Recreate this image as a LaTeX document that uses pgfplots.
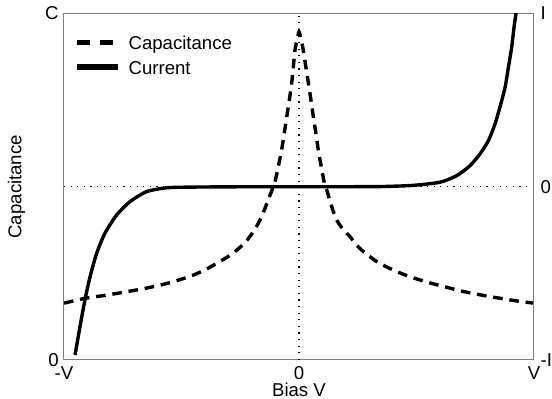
\documentclass[border=0pt]{standalone}
\usepackage{fontspec}
\setmainfont{Liberation Sans}
\usepackage{pgfplots}
\pgfplotsset{compat=1.18}
\newcommand\myfont{\fontsize{9.3}{11}\selectfont}
\definecolor{axgray}{RGB}{128,128,128}
\begin{document}
\myfont
\begin{tikzpicture}
\useasboundingbox (-32pt,-19.5pt) rectangle (244pt,180pt);
\pgfplotsset{
  common/.style={
    scale only axis, width=235pt, height=173.25pt,
    xmin=-1, xmax=1,
    major tick length=0pt,
    /pgf/number format/assume math mode=true,
    tick label style={font=\myfont},
    label style={font=\myfont},
  }
}
\begin{axis}[common,
  ymin=0, ymax=1,
  axis line style={draw=axgray, line width=0.5pt},
  xtick={-1,0,1}, xticklabels={-V,0,V},
  ytick={0,1}, yticklabels={0,C},
  yticklabel style={xshift=0.6pt},
  xlabel={Bias V},
  xlabel style={at={(axis description cs:0.5,-0.087)}, anchor=center},
  ylabel={Capacitance},
  ylabel style={at={(axis description cs:-0.101,0.5)}, anchor=center, rotate=0},
]
\addplot[black, line width=0.6pt, dash pattern=on 0.6pt off 2.7pt] coordinates {(-1,0.5) (1,0.5)};
\addplot[black, line width=0.6pt, dash pattern=on 0.6pt off 2.7pt] coordinates {(0,0) (0,1)};
\addplot[black, line width=1.7pt, dash pattern=on 4.8pt off 3.4pt, smooth, tension=0.35] coordinates {
(-1,0.164) (-0.91,0.178) (-0.82,0.187) (-0.733,0.197) (-0.66,0.206) (-0.591,0.216) (-0.52,0.229) (-0.45,0.245) (-0.40,0.260) (-0.35,0.279) (-0.305,0.297) (-0.265,0.317) (-0.235,0.335) (-0.209,0.356) (-0.186,0.379) (-0.166,0.404) (-0.148,0.432) (-0.131,0.462) (-0.115,0.490) (-0.102,0.515) (-0.088,0.558) (-0.074,0.606) (-0.063,0.653) (-0.052,0.702) (-0.041,0.751) (-0.031,0.799) (-0.024,0.847) (-0.017,0.895) (-0.008,0.925) (0,0.947)
(0.009,0.925) (0.018,0.895) (0.029,0.847) (0.04,0.799) (0.051,0.750) (0.061,0.702) (0.072,0.654) (0.082,0.606) (0.096,0.553) (0.111,0.500) (0.118,0.491) (0.138,0.445) (0.160,0.404) (0.187,0.378) (0.217,0.356) (0.241,0.335) (0.267,0.317) (0.298,0.300) (0.331,0.284) (0.372,0.269) (0.416,0.255) (0.465,0.242) (0.515,0.231) (0.570,0.220) (0.628,0.210) (0.690,0.199) (0.756,0.190) (0.820,0.182) (0.884,0.175) (0.940,0.169) (1,0.164)
};
\end{axis}
\begin{axis}[common,
  ymin=-1, ymax=1,
  hide x axis,
  axis y line*=right,
  y axis line style={draw=axgray, line width=0.5pt},
  ytick={-1,0,1}, yticklabels={-I,0,I},
  legend style={at={(axis description cs:0,1)}, anchor=north west, xshift=5.2pt, yshift=-11.1pt,
    draw=none, fill=none, inner sep=0pt, outer sep=0pt,
    nodes={inner sep=0pt, text height=7pt, text depth=0pt, font=\myfont},
    row sep=5.2pt, column sep=4pt},
  legend cell align=left,
]
\addplot[black, line width=1.7pt, smooth, tension=0.4, forget plot] coordinates {
(-0.953,-0.971) (-0.932,-0.808) (-0.911,-0.654) (-0.889,-0.519) (-0.861,-0.384) (-0.826,-0.269) (-0.776,-0.163) (-0.719,-0.086) (-0.648,-0.028) (-0.563,-0.006) (-0.45,-0.002) (-0.2,0) (0.1,0) (0.345,0.001) (0.486,0.008) (0.6,0.026) (0.671,0.064) (0.728,0.122) (0.770,0.189) (0.806,0.266) (0.834,0.362) (0.855,0.459) (0.877,0.574) (0.891,0.689) (0.905,0.805) (0.915,0.920) (0.923,0.997) (0.926,1.04)
};
\addlegendimage{legend image code/.code={\draw[black, line width=2.6pt, dash pattern=on 6.5pt off 5pt] (0pt,0pt) -- (18pt,0pt);}}
\addlegendentry{Capacitance}
\addlegendimage{legend image code/.code={\draw[black, line width=2.6pt] (0pt,0pt) -- (20.5pt,0pt);}}
\addlegendentry{Current}
\end{axis}
\end{tikzpicture}
\end{document}
